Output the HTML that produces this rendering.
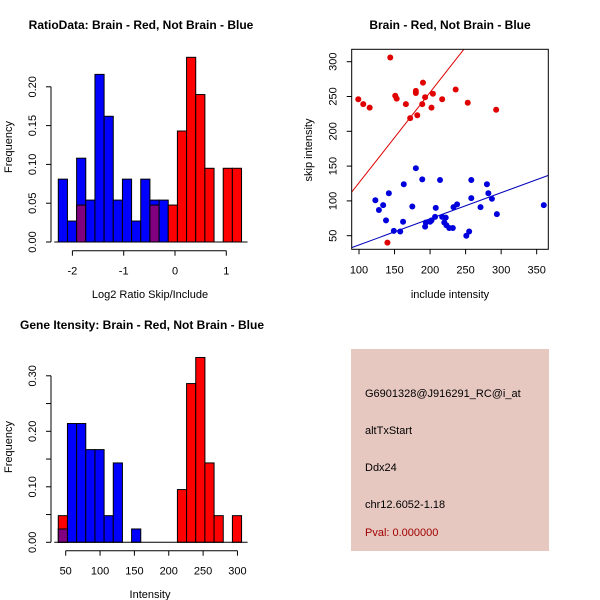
<!DOCTYPE html>
<html><head><meta charset="utf-8"><style>
body{margin:0;background:#fff}
svg{display:block;font-family:"Liberation Sans",sans-serif}
</style></head><body>
<svg id="c" width="600" height="600" viewBox="0 0 600 600">
<rect width="600" height="600" fill="#fff"/>
<text x="141" y="29" text-anchor="middle" font-size="12" font-weight="bold">RatioData: Brain - Red, Not Brain - Blue</text>
<text x="450" y="29" text-anchor="middle" font-size="12" font-weight="bold">Brain - Red, Not Brain - Blue</text>
<text x="142" y="329" text-anchor="middle" font-size="12" font-weight="bold">Gene Itensity: Brain - Red, Not Brain - Blue</text>
<text x="150" y="298" text-anchor="middle" font-size="11">Log2 Ratio Skip/Include</text>
<text x="150" y="598" text-anchor="middle" font-size="11">Intensity</text>
<text x="450" y="298" text-anchor="middle" font-size="11">include intensity</text>
<text transform="translate(12,147) rotate(-90)" text-anchor="middle" font-size="11">Frequency</text>
<text transform="translate(12,447) rotate(-90)" text-anchor="middle" font-size="11">Frequency</text>
<text transform="translate(312,150) rotate(-90)" text-anchor="middle" font-size="11">skip intensity</text>
<g id="p1"></g>
<g id="p2"></g>
<g id="p3"></g>
<g>
<rect x="351" y="349" width="198" height="202" fill="#e6c8c0"/>
<text x="365" y="397" font-size="11">G6901328@J916291_RC@i_at</text>
<text x="365" y="434" font-size="11">altTxStart</text>
<text x="365" y="471" font-size="11">Ddx24</text>
<text x="365" y="508" font-size="11">chr12.6052-1.18</text>
<text x="365" y="536" font-size="11" fill="#a00000">Pval: 0.000000</text>
</g>
</svg>
<script>
// Histogram 1 data
const h1Start=-2.275, h1Width=0.1786;
const h1Blue=[0.081,0.027,0.108,0.054,0.216,0.162,0.054,0.081,0.027,0.081,0.054,0.054,0,0,0,0,0,0,0,0];
const h1Red=[0,0,0.0476,0,0,0,0,0,0,0,0.0476,0,0.0476,0.143,0.238,0.190,0.095,0,0.095,0.095];
const h1XTicks=[-2,-1,0,1];
const h1YTicks=[0,0.05,0.10,0.15,0.20];
const h1YLabels=["0.00","0.05","0.10","0.15","0.20"];
// Histogram 2 data
const h3Start=39.2, h3Width=13.34;
const h3Blue=[0.024,0.214,0.214,0.167,0.167,0.048,0.143,0,0.024,0,0,0,0,0,0,0,0,0,0,0];
const h3Red=[0.048,0,0,0,0,0,0,0,0,0,0,0,0,0.095,0.286,0.333,0.143,0.048,0,0.048];
const h3XTicks=[50,100,150,200,250,300];
const h3YTicks=[0,0.05,0.10,0.15,0.20,0.25,0.30];
const h3YLabels=["0.00","","0.10","","0.20","","0.30"];
// Scatter data
const redX=[99,106,115,144,151,153,166,172,180,180,182,189,190,193,204,202,217,236,253,293,140];
const redY=[246,239,234,306,251,247,239,219,258,255,223,239,270,249,254,234,246,260,241,231,40];
const blueX=[123,128,134,138,142,149,158,162,163,175,180,189,193,194,200,202,207,208,214,217,220,222,223,227,232,233,238,251,255,258,258,271,280,282,287,294,360];
const blueY=[101,87,94,72,111,57,56,70,124,92,147,131,63,69,70,72,77,90,130,77,69,76,65,61,61,91,95,50,56,104,130,91,124,111,103,81,94];
const redFit=[-4,1.3];
const blueFit=[-0.75,0.375];
const sXTicks=[100,150,200,250,300,350];
const sYTicks=[50,100,150,200,250,300];

const NS="http://www.w3.org/2000/svg";
function mk(parent,tag,attrs){const e=document.createElementNS(NS,tag);for(const k in attrs)e.setAttribute(k,attrs[k]);parent.appendChild(e);return e;}

function hist(g,start,width,blue,red,xTicks,yTicks,yLabels,x0px,pxPerX,xRef,y0px,pxPerY,axisY){
  const X=v=>x0px+(v-xRef)*pxPerX, Y=v=>y0px-v*pxPerY;
  for(let i=0;i<blue.length;i++){
    const l=X(start+i*width), r=X(start+(i+1)*width);
    const b=blue[i], rd=red[i];
    const lo=Math.min(b,rd), hi=Math.max(b,rd);
    if(hi>0){
      const e=mk(g,'rect',{x:l,y:Y(hi),width:r-l,height:Y(0)-Y(hi),fill:b>=rd?'#0000ff':'#ff0000',stroke:'#000','stroke-width':1});
      
      
    }
    if(lo>0){
      const e=mk(g,'rect',{x:l,y:Y(lo),width:r-l,height:Y(0)-Y(lo),fill:'#800080',stroke:'#000','stroke-width':1});
      
      
    }
  }
  const xl=X(start), xr=X(start+blue.length*width);
  const base=mk(g,'line',{x1:xl-4,x2:xr+6,y1:Y(0),y2:Y(0),stroke:'#000'});
  
  
  const ax=51;
  mk(g,'line',{x1:ax,x2:ax,y1:Y(yTicks[0]),y2:Y(yTicks[yTicks.length-1]),stroke:'#000'});
  yTicks.forEach((t,i)=>{
    mk(g,'line',{x1:ax-5,x2:ax,y1:Y(t),y2:Y(t),stroke:'#000'});
    if(yLabels[i]){const tx=mk(g,'text',{transform:`translate(${ax-15},${Y(t)}) rotate(-90)`,'text-anchor':'middle','font-size':11});tx.textContent=yLabels[i];
      
      }
  });
  mk(g,'line',{x1:X(xTicks[0]),x2:X(xTicks[xTicks.length-1]),y1:axisY,y2:axisY,stroke:'#000'});
  xTicks.forEach(t=>{
    mk(g,'line',{x1:X(t),x2:X(t),y1:axisY,y2:axisY+5,stroke:'#000'});
    const tx=mk(g,'text',{x:X(t),y:axisY+24,'text-anchor':'middle','font-size':11});tx.textContent=t;
    
    
  });
}
hist(document.getElementById('p1'),h1Start,h1Width,h1Blue,h1Red,h1XTicks,h1YTicks,h1YLabels,175,51.3,0,242,776,250.7);
hist(document.getElementById('p3'),h3Start,h3Width,h3Blue,h3Red,h3XTicks,h3YTicks,h3YLabels,65.7,0.687,50,542.3,555,550.7);

(function(){
  const g=document.getElementById('p2');
  const L=351.7,R=548.3,T=49.3,B=249.3;
  const X=v=>359+(v-100)*0.7107, Y=v=>235.7-(v-50)*0.696;
  const xmin=89.7,xmax=366.4;
  const clip=mk(g,'clipPath',{id:'sc'});mk(clip,'rect',{x:L,y:T,width:R-L,height:B-T});
  [[redFit,'#dd0000','red-fit-line'],[blueFit,'#0000bb','blue-fit-line']].forEach(([f,c,n])=>{
    const e=mk(g,'line',{x1:X(xmin),y1:Y(f[0]+f[1]*xmin),x2:X(xmax),y2:Y(f[0]+f[1]*xmax),stroke:c,'clip-path':'url(#sc)'});
    
    
  });
  redX.forEach((x,i)=>{const e=mk(g,'circle',{cx:X(x),cy:Y(redY[i]),r:3,fill:'#e00000'});
    
    });
  blueX.forEach((x,i)=>{const e=mk(g,'circle',{cx:X(x),cy:Y(blueY[i]),r:3,fill:'#0000dd'});
    
    });
  const box=mk(g,'rect',{x:L,y:T,width:R-L,height:B-T,fill:'none',stroke:'#000'});
  
  
  sXTicks.forEach(t=>{mk(g,'line',{x1:X(t),x2:X(t),y1:B,y2:B+5,stroke:'#000'});
    const tx=mk(g,'text',{x:X(t),y:B+24,'text-anchor':'middle','font-size':11});tx.textContent=t;
    
    });
  sYTicks.forEach(t=>{mk(g,'line',{x1:L-5,x2:L,y1:Y(t),y2:Y(t),stroke:'#000'});
    const tx=mk(g,'text',{transform:`translate(${L-15},${Y(t)}) rotate(-90)`,'text-anchor':'middle','font-size':11});tx.textContent=t;
    
    });
})();
</script>
</body></html>
